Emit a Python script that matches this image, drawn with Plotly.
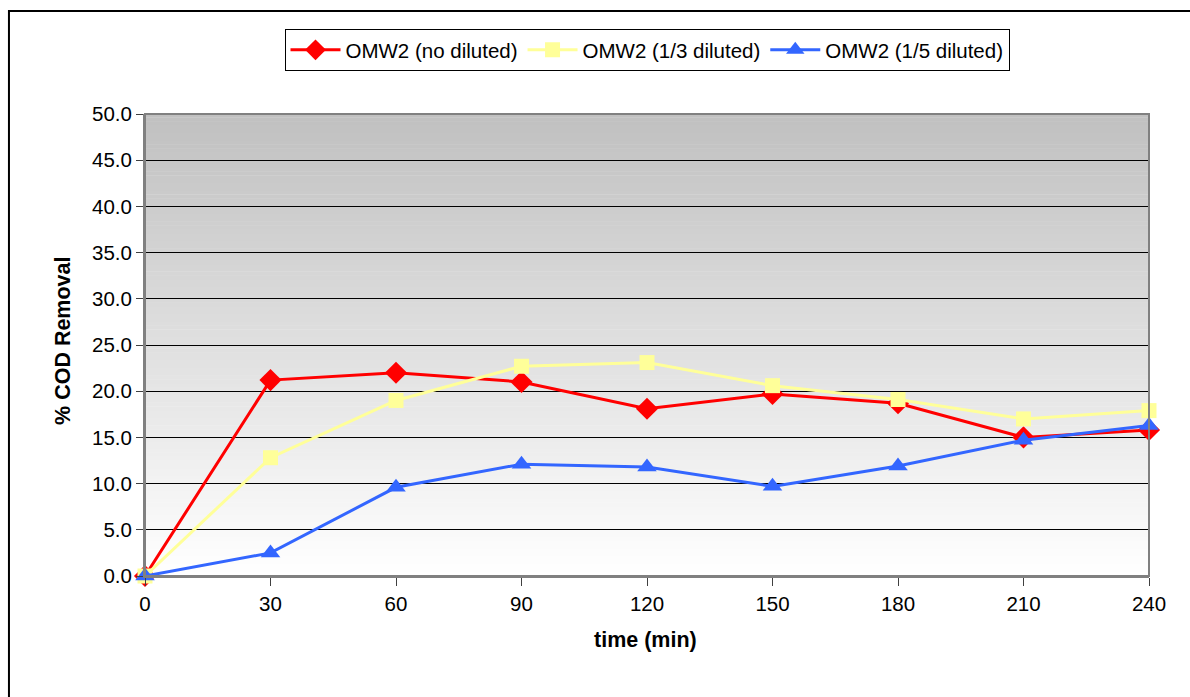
import plotly.graph_objects as go

# Sampling times (min)
time_min = [0, 30, 60, 90, 120, 150, 180, 210, 240]

# % COD removal for each dilution of OMW2
cod_no_diluted = [0.0, 21.2, 22.0, 21.0, 18.1, 19.7, 18.7, 15.0, 15.8]
cod_1_3_diluted = [0.0, 12.8, 19.0, 22.7, 23.1, 20.6, 19.1, 17.0, 17.9]
cod_1_5_diluted = [0.0, 2.5, 9.6, 12.1, 11.8, 9.7, 11.9, 14.7, 16.3]

series_names = ["OMW2 (no diluted)", "OMW2 (1/3 diluted)", "OMW2 (1/5 diluted)"]

y_ticks = [0, 5, 10, 15, 20, 25, 30, 35, 40, 45, 50]
x_ticks = time_min

FONT = "Liberation Sans, Arial, sans-serif"
TICK_SIZE = 20.5
TITLE_SIZE = 21.5

fig = go.Figure()

fig.add_trace(go.Scatter(
    x=time_min, y=cod_no_diluted, name=series_names[0], mode="lines+markers",
    line=dict(color="#FF0000", width=3),
    marker=dict(symbol="diamond", size=17, color="#FF0000"),
    cliponaxis=False,
))
fig.add_trace(go.Scatter(
    x=time_min, y=cod_1_3_diluted, name=series_names[1], mode="lines+markers",
    line=dict(color="#FFFF99", width=3),
    marker=dict(symbol="square", size=15, color="#FFFF99"),
    cliponaxis=False,
))
fig.add_trace(go.Scatter(
    x=time_min, y=cod_1_5_diluted, name=series_names[2], mode="lines+markers",
    line=dict(color="#3366FF", width=3),
    marker=dict(symbol="triangle-up", size=17, color="#3366FF"),
    cliponaxis=False,
))

# Vertical grey-to-white gradient behind the plotting area
shapes = []
n_bands = 120
for i in range(n_bands):
    y0 = i / n_bands
    y1 = (i + 1) / n_bands
    t = (i + 0.5) / n_bands
    g = round(255 - (255 - 192) * t)
    shapes.append(dict(
        type="rect", xref="x domain", yref="y domain",
        x0=0, x1=1, y0=y0, y1=y1 + 0.001,
        fillcolor=f"rgb({g},{g},{g})", line=dict(width=0), layer="below",
    ))

# Grey frame around the plotting area
shapes.append(dict(
    type="rect", xref="x domain", yref="y domain", x0=0, x1=1, y0=0, y1=1,
    line=dict(color="#808080", width=2), fillcolor="rgba(0,0,0,0)", layer="above",
))

# Outer chart border
shapes.append(dict(
    type="rect", xref="paper", yref="paper",
    x0=-0.1355, x1=1.046, y0=-0.285, y1=1.2229,
    line=dict(color="#000000", width=2), fillcolor="rgba(0,0,0,0)", layer="above",
))

fig.update_layout(
    width=1190, height=697,
    margin=dict(l=145, r=41, t=114, b=121),
    paper_bgcolor="white",
    plot_bgcolor="white",
    font=dict(family=FONT, size=TICK_SIZE, color="#000000"),
    shapes=shapes,
    showlegend=True,
    legend=dict(
        orientation="h", x=0.5, xanchor="center", y=1.1385, yanchor="middle",
        bgcolor="white", bordercolor="#000000", borderwidth=1,
        font=dict(family=FONT, size=TICK_SIZE, color="#000000"),
        itemwidth=50, tracegroupgap=0,
    ),
    xaxis=dict(
        range=[0, 240], tickmode="array", tickvals=x_ticks,
        ticktext=[str(v) for v in x_ticks],
        showgrid=False, zeroline=False,
        showline=True, linecolor="#808080", linewidth=2,
        ticks="outside", ticklen=8, tickcolor="#404040", tickwidth=1,
        tickfont=dict(family=FONT, size=TICK_SIZE),
    ),
    yaxis=dict(
        range=[0, 50], tickmode="array", tickvals=y_ticks,
        ticktext=[f"{v:.1f}" for v in y_ticks],
        showgrid=True, gridcolor="#000000", gridwidth=1, zeroline=False,
        showline=True, linecolor="#808080", linewidth=2,
        ticks="outside", ticklen=7, tickcolor="#404040", tickwidth=1,
        tickfont=dict(family=FONT, size=TICK_SIZE),
    ),
    annotations=[
        dict(
            text="<b>time (min)</b>", xref="paper", yref="paper",
            x=0.4985, y=-0.1385, xanchor="center", yanchor="middle",
            showarrow=False, font=dict(family=FONT, size=TITLE_SIZE),
        ),
        dict(
            text="<b>% COD Removal</b>", xref="paper", yref="paper",
            x=-0.0817, y=0.5087, xanchor="center", yanchor="middle",
            textangle=-90, showarrow=False, font=dict(family=FONT, size=TITLE_SIZE),
        ),
    ],
)

fig.write_html("out.html")
